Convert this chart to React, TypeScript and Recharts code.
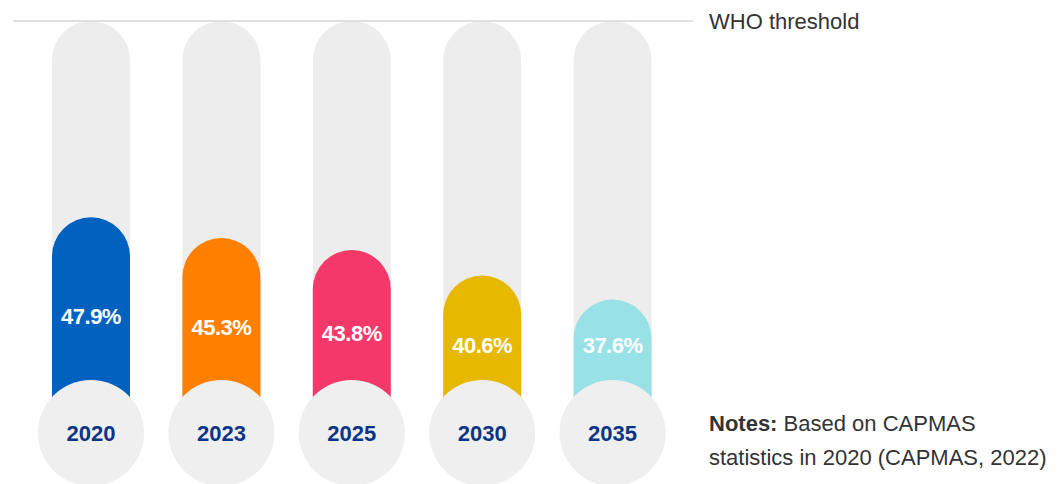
import React from 'react';
import { BarChart, Bar, XAxis, YAxis, ReferenceLine } from 'recharts';

const years = ['2020', '2023', '2025', '2030', '2035'];
const shares = [47.9, 45.3, 43.8, 40.6, 37.6];
const barColors = ['#0062be', '#ff7f00', '#f5386a', '#e6b800', '#98e1e7'];
const whoThreshold = 72.5;

const data = years.map((year, i) => ({ year, share: shares[i], threshold: whoThreshold }));

const FONT = '"Liberation Sans", Arial, sans-serif';

// colored capsule + year disc underneath
const ShareShape = (props: any) => {
  const { x, y, width, height, index, payload } = props;
  const r = width / 2;
  const cx = x + r;
  const bottom = y + height;
  const discR = width * 0.68;
  const discY = bottom - 7;
  // centre the value in the visible part, but keep it clear of the disc
  const labelY = Math.min((y + bottom - 24) / 2, discY - discR - 34);
  const path = `M${x},${bottom} L${x},${y + r} A${r},${r} 0 0 1 ${x + width},${y + r} L${x + width},${bottom} Z`;
  return (
    <g>
      <path d={path} fill={barColors[index]} />
      <text x={cx} y={labelY} textAnchor="middle" dominantBaseline="central" fill="#fff"
        fontSize={22} fontWeight={700} fontFamily={FONT} letterSpacing={-0.5}>
        {`${payload.share}%`}
      </text>
      <circle cx={cx} cy={discY} r={discR} fill="#efefef" />
      <text x={cx} y={discY} textAnchor="middle" dominantBaseline="central" fill="#0b3586"
        fontSize={22} fontWeight={700} fontFamily={FONT}>
        {payload.year}
      </text>
    </g>
  );
};

export default function App() {
  return (
    <div style={{ position: 'absolute', left: 0, top: 0, width: 1060, height: 484, background: '#fff', overflow: 'hidden' }}>
      <BarChart width={1060} height={484} data={data} margin={{ top: 21, right: 367, bottom: 44, left: 13 }}>
        <XAxis xAxisId="bg" dataKey="year" hide padding={{ left: 13, right: 15 }} />
        <XAxis xAxisId="fg" dataKey="year" hide padding={{ left: 13, right: 15 }} />
        <YAxis hide domain={[20, whoThreshold]} />
        <ReferenceLine
          y={whoThreshold}
          xAxisId="bg"
          stroke="#d6d6d6"
          strokeWidth={1.5}
          label={{ value: 'WHO threshold', position: 'right', offset: 16, fill: '#333', fontSize: 22, fontFamily: FONT }}
        />
        <Bar xAxisId="bg" dataKey="threshold" barSize={78} fill="#ededed" radius={[39, 39, 0, 0]} isAnimationActive={false} />
        <Bar xAxisId="fg" dataKey="share" barSize={78} shape={ShareShape} isAnimationActive={false} />
      </BarChart>
      <div style={{ position: 'absolute', left: 709, top: 407, fontFamily: FONT, fontSize: 22, lineHeight: '34px', color: '#333' }}>
        <b>Notes:</b> Based on CAPMAS
        <br />
        statistics in 2020 (CAPMAS, 2022)
      </div>
    </div>
  );
}
